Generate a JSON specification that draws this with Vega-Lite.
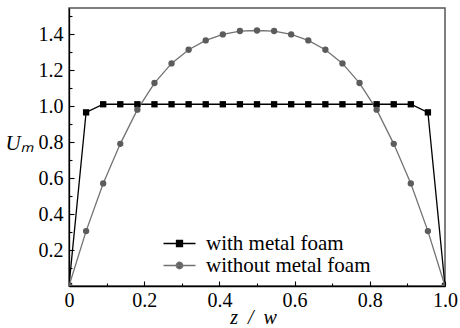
{
  "$schema": "https://vega.github.io/schema/vega-lite/v6.json",
  "width": 376,
  "height": 278,
  "autosize": {"type": "none"},
  "padding": {"left": 69, "top": 8, "right": 15, "bottom": 42},
  "config": {
    "font": "Liberation Serif",
    "view": {"stroke": "#555", "strokeWidth": 1.5},
    "axis": {
      "grid": false,
      "domainColor": "#000",
      "domainWidth": 1.3,
      "tickColor": "#000",
      "tickWidth": 1.1,
      "labelColor": "#000",
      "titleFontWeight": "normal",
      "titleColor": "#000",
      "labelOverlap": false,
      "labelFlush": false
    }
  },
  "data": {
    "values": [
      {"series": "with metal foam", "z": 0, "U": 0},
      {"series": "with metal foam", "z": 0.04545, "U": 0.965},
      {"series": "with metal foam", "z": 0.09091, "U": 1.01},
      {"series": "with metal foam", "z": 0.13636, "U": 1.01},
      {"series": "with metal foam", "z": 0.18182, "U": 1.01},
      {"series": "with metal foam", "z": 0.22727, "U": 1.01},
      {"series": "with metal foam", "z": 0.27273, "U": 1.01},
      {"series": "with metal foam", "z": 0.31818, "U": 1.01},
      {"series": "with metal foam", "z": 0.36364, "U": 1.01},
      {"series": "with metal foam", "z": 0.40909, "U": 1.01},
      {"series": "with metal foam", "z": 0.45455, "U": 1.01},
      {"series": "with metal foam", "z": 0.5, "U": 1.01},
      {"series": "with metal foam", "z": 0.54545, "U": 1.01},
      {"series": "with metal foam", "z": 0.59091, "U": 1.01},
      {"series": "with metal foam", "z": 0.63636, "U": 1.01},
      {"series": "with metal foam", "z": 0.68182, "U": 1.01},
      {"series": "with metal foam", "z": 0.72727, "U": 1.01},
      {"series": "with metal foam", "z": 0.77273, "U": 1.01},
      {"series": "with metal foam", "z": 0.81818, "U": 1.01},
      {"series": "with metal foam", "z": 0.86364, "U": 1.01},
      {"series": "with metal foam", "z": 0.90909, "U": 1.01},
      {"series": "with metal foam", "z": 0.95455, "U": 0.965},
      {"series": "with metal foam", "z": 1, "U": 0},
      {"series": "without metal foam", "z": 0, "U": 0},
      {"series": "without metal foam", "z": 0.04545, "U": 0.305},
      {"series": "without metal foam", "z": 0.09091, "U": 0.57},
      {"series": "without metal foam", "z": 0.13636, "U": 0.79},
      {"series": "without metal foam", "z": 0.18182, "U": 0.98},
      {"series": "without metal foam", "z": 0.22727, "U": 1.128},
      {"series": "without metal foam", "z": 0.27273, "U": 1.237},
      {"series": "without metal foam", "z": 0.31818, "U": 1.313},
      {"series": "without metal foam", "z": 0.36364, "U": 1.365},
      {"series": "without metal foam", "z": 0.40909, "U": 1.398},
      {"series": "without metal foam", "z": 0.45455, "U": 1.417},
      {"series": "without metal foam", "z": 0.5, "U": 1.42},
      {"series": "without metal foam", "z": 0.54545, "U": 1.417},
      {"series": "without metal foam", "z": 0.59091, "U": 1.398},
      {"series": "without metal foam", "z": 0.63636, "U": 1.365},
      {"series": "without metal foam", "z": 0.68182, "U": 1.313},
      {"series": "without metal foam", "z": 0.72727, "U": 1.237},
      {"series": "without metal foam", "z": 0.77273, "U": 1.128},
      {"series": "without metal foam", "z": 0.81818, "U": 0.98},
      {"series": "without metal foam", "z": 0.86364, "U": 0.79},
      {"series": "without metal foam", "z": 0.90909, "U": 0.57},
      {"series": "without metal foam", "z": 0.95455, "U": 0.305},
      {"series": "without metal foam", "z": 1, "U": 0}
    ]
  },
  "encoding": {
    "x": {
      "field": "z",
      "type": "quantitative",
      "scale": {"domain": [0, 1], "nice": false},
      "axis": {
        "title": "z\u2002/\u2002w",
        "titleFont": "Liberation Serif",
        "titleFontSize": 20,
        "titleFontStyle": "italic",
        "titleX": 184,
        "titleY": 37,
        "titleBaseline": "alphabetic",
        "values": [0, 0.1, 0.2, 0.3, 0.4, 0.5, 0.6, 0.7, 0.8, 0.9, 1],
        "tickSize": {"condition": {"test": "round(datum.value * 10) % 2 === 0", "value": -5}, "value": -3},
        "labelFont": "Liberation Serif",
        "labelFontSize": 20,
        "labelPadding": 25,
        "labelBaseline": "alphabetic",
        "labelExpr": "round(datum.value * 10) % 2 === 0 ? (datum.value === 0 ? '0' : format(datum.value, '.1f')) : ''"
      }
    },
    "y": {
      "field": "U",
      "type": "quantitative",
      "scale": {"domain": [0, 1.545], "nice": false},
      "axis": {
        "title": "U\u2098",
        "titleFont": "Liberation Serif",
        "titleFontStyle": "italic",
        "titleFontSize": 21,
        "titleAngle": 0,
        "titleAlign": "left",
        "titleBaseline": "alphabetic",
        "titleX": -64,
        "titleY": 141,
        "values": [0.1, 0.2, 0.3, 0.4, 0.5, 0.6, 0.7, 0.8, 0.9, 1.0, 1.1, 1.2, 1.3, 1.4, 1.5],
        "tickSize": {"condition": {"test": "round(datum.value * 10) % 2 === 0", "value": -5}, "value": -3},
        "labelFont": "Liberation Serif",
        "labelFontSize": 20,
        "labelPadding": 11,
        "labelBaseline": "middle",
        "labelExpr": "round(datum.value * 10) % 2 === 0 ? format(datum.value, '.1f') : ''"
      }
    }
  },
  "layer": [
    {
      "mark": {"type": "line", "strokeWidth": 1.3, "clip": true},
      "encoding": {
        "color": {
          "field": "series",
          "type": "nominal",
          "scale": {"domain": ["with metal foam", "without metal foam"], "range": ["#000000", "#727272"]},
          "legend": null
        }
      }
    },
    {
      "mark": {"type": "point", "filled": true, "opacity": 1, "size": 40, "clip": true},
      "encoding": {
        "color": {
          "field": "series",
          "type": "nominal",
          "scale": {"domain": ["with metal foam", "without metal foam"], "range": ["#000000", "#5c5c5c"]},
          "legend": {
            "title": null,
            "orient": "none",
            "legendX": 100,
            "legendY": 225,
            "padding": 0,
            "rowPadding": 0,
            "symbolSize": 100,
            "symbolOpacity": 1,
            "labelOffset": 16,
            "labelFont": "Liberation Serif",
            "labelFontSize": 21,
            "labelColor": "#000",
            "labelLimit": 300,
            "encode": {
              "symbols": {
                "update": {
                  "shape": {"signal": "datum.value === 'with metal foam' ? 'M-3.2,0H3.2M-0.6,-0.6H0.6V0.6H-0.6Z' : 'M-3.2,0H3.2M-0.65,0A0.65,0.65,0,1,0,0.65,0A0.65,0.65,0,1,0,-0.65,0Z'"},
                  "stroke": {"signal": "datum.value === 'with metal foam' ? '#000000' : '#727272'"},
                  "strokeWidth": {"value": 1.3}
                }
              }
            }
          }
        },
        "shape": {
          "field": "series",
          "type": "nominal",
          "scale": {"domain": ["with metal foam", "without metal foam"], "range": ["square", "circle"]}
        }
      }
    }
  ],
  "resolve": {"scale": {"color": "independent"}}
}
